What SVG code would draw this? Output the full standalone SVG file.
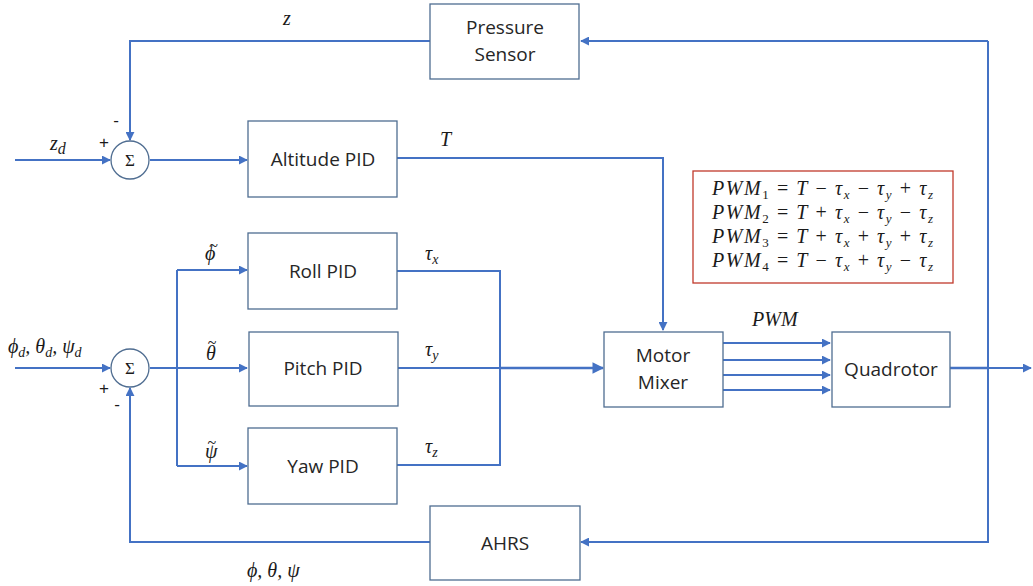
<svg xmlns="http://www.w3.org/2000/svg" width="1033" height="586" viewBox="0 0 1033 586">
  <style>
    .box { fill: #ffffff; stroke: #4f6d91; stroke-width: 1.3; }
    .wire { fill: none; stroke: #4472c4; stroke-width: 2; }
    .lbl { font-family: "Open Sans", "Liberation Sans", sans-serif; font-size: 19px; fill: #262626; text-anchor: middle; }
    .math { font-family: "Liberation Serif", "DejaVu Serif", serif; font-style: italic; font-size: 20px; fill: #1a1a1a; }
    .tl { font-style: normal; font-size: 16px; }
    .sign { font-family: "Liberation Sans", sans-serif; font-size: 17px; fill: #1a1a1a; text-anchor: middle; }
    .sum { font-family: "Liberation Serif", serif; font-size: 17px; fill: #1a1a1a; text-anchor: middle; }
    .eq { font-family: "Liberation Serif", "DejaVu Serif", serif; font-style: italic; font-size: 20px; fill: #1a1a1a; }
    .up { font-style: normal; }
  </style>
  <defs>
    <marker id="arr" viewBox="0 0 10 10" refX="9" refY="5" markerWidth="4.5" markerHeight="4.5" orient="auto" markerUnits="strokeWidth">
      <path d="M0,0 L10,5 L0,10 Z" fill="#4472c4"/>
    </marker>
  </defs>

  <!-- connectors -->
  <g id="connectors">
    <path class="wire" d="M988,41 H581" marker-end="url(#arr)"/>
    <path class="wire" d="M430,41 H130 V140" marker-end="url(#arr)"/>
    <path class="wire" d="M15,160 H110" marker-end="url(#arr)"/>
    <path class="wire" d="M150,160 H247" marker-end="url(#arr)"/>
    <path class="wire" d="M397,158 H663 V330" marker-end="url(#arr)"/>
    <path class="wire" d="M15,368 H110" marker-end="url(#arr)"/>
    <path class="wire" d="M150,368 H177"/>
    <path class="wire" d="M177,270 V466"/>
    <path class="wire" d="M177,270 H247" marker-end="url(#arr)"/>
    <path class="wire" d="M177,368 H247" marker-end="url(#arr)"/>
    <path class="wire" d="M177,466 H247" marker-end="url(#arr)"/>
    <path class="wire" d="M397,271 H500 V465 H397"/>
    <path class="wire" d="M398,368 H500"/>
    <path class="wire" d="M500,368 H603" style="stroke-width:2.6" marker-end="url(#arr)"/>
    <path class="wire" d="M723,343 H830" marker-end="url(#arr)"/>
    <path class="wire" d="M723,360 H830" marker-end="url(#arr)"/>
    <path class="wire" d="M723,375 H830" marker-end="url(#arr)"/>
    <path class="wire" d="M723,390 H830" marker-end="url(#arr)"/>
    <path class="wire" d="M950,368 H988" style="stroke-width:2.6"/>
    <path class="wire" d="M988,368 H1031" marker-end="url(#arr)"/>
    <path class="wire" d="M988,41 V542 H581" marker-end="url(#arr)"/>
    <path class="wire" d="M430,542 H130 V388" marker-end="url(#arr)"/>
  </g>

  <!-- signal labels -->
  <g id="signals">
    <text class="math" x="283" y="25">z</text>
    <text class="math" x="50" y="150" font-size="22">z<tspan font-size="16" dy="4">d</tspan></text>
    <text class="math" x="440" y="146">T</text>
    <text class="math" x="8" y="353">ϕ<tspan font-size="14" dy="4">d</tspan><tspan dy="-4">, θ</tspan><tspan font-size="14" dy="4">d</tspan><tspan dy="-4">, ψ</tspan><tspan font-size="14" dy="4">d</tspan></text>
    <text class="math" x="205" y="260">ϕ<tspan class="tl" dx="-6" dy="-9">~</tspan></text>
    <text class="math" x="206" y="360">θ<tspan class="tl" dx="-8" dy="-12">~</tspan></text>
    <text class="math" x="205" y="458">ψ<tspan class="tl" dx="-10" dy="-10">~</tspan></text>
    <text class="math" x="425" y="260" font-size="19">τ<tspan font-size="14" dy="4">x</tspan></text>
    <text class="math" x="425" y="356" font-size="19">τ<tspan font-size="14" dy="4">y</tspan></text>
    <text class="math" x="425" y="453" font-size="19">τ<tspan font-size="14" dy="4">z</tspan></text>
    <text class="math" x="752" y="326" font-size="17">PWM</text>
    <text class="math" x="247" y="577" font-size="19">ϕ, θ, ψ</text>
    <text class="sign" x="104" y="148">+</text>
    <text class="sign" x="116" y="126">-</text>
    <text class="sign" x="104" y="394">+</text>
    <text class="sign" x="117" y="410">-</text>
  </g>

  <!-- summing junctions -->
  <g id="sum-altitude">
    <circle class="box" cx="130" cy="160" r="19"/>
    <text class="sum" x="130" y="166">Σ</text>
  </g>
  <g id="sum-attitude">
    <circle class="box" cx="130" cy="368" r="19"/>
    <text class="sum" x="130" y="374">Σ</text>
  </g>

  <!-- blocks -->
  <g id="pressure-sensor">
    <rect class="box" x="430" y="4" width="149" height="75"/>
    <text class="lbl" x="505" y="34">Pressure</text>
    <text class="lbl" x="505" y="61">Sensor</text>
  </g>
  <g id="altitude-pid">
    <rect class="box" x="248" y="121" width="149" height="76"/>
    <text class="lbl" x="323" y="166">Altitude PID</text>
  </g>
  <g id="roll-pid">
    <rect class="box" x="248" y="233" width="149" height="76"/>
    <text class="lbl" x="323" y="278">Roll PID</text>
  </g>
  <g id="pitch-pid">
    <rect class="box" x="249" y="332" width="149" height="74"/>
    <text class="lbl" x="323" y="375">Pitch PID</text>
  </g>
  <g id="yaw-pid">
    <rect class="box" x="248" y="428" width="149" height="76"/>
    <text class="lbl" x="323" y="473">Yaw PID</text>
  </g>
  <g id="motor-mixer">
    <rect class="box" x="604" y="332" width="119" height="75"/>
    <text class="lbl" x="663" y="362">Motor</text>
    <text class="lbl" x="663" y="389">Mixer</text>
  </g>
  <g id="quadrotor">
    <rect class="box" x="832" y="332" width="118" height="75"/>
    <text class="lbl" x="891" y="376">Quadrotor</text>
  </g>
  <g id="ahrs">
    <rect class="box" x="430" y="506" width="150" height="74"/>
    <text class="lbl" x="505" y="550">AHRS</text>
  </g>

  <!-- mixer equations -->
  <g id="mixer-equations">
    <rect x="693" y="171" width="260" height="112" fill="#ffffff" stroke="#c0392b" stroke-width="1.3"/>
    <text class="eq" x="712" y="195" textLength="221" lengthAdjust="spacing">PWM<tspan class="up" font-size="13" dy="4">1</tspan><tspan class="up" dy="-4"> = </tspan>T<tspan class="up"> − </tspan>τ<tspan font-size="13" dy="4">x</tspan><tspan class="up" dy="-4"> − </tspan>τ<tspan font-size="13" dy="4">y</tspan><tspan class="up" dy="-4"> + </tspan>τ<tspan font-size="13" dy="4">z</tspan></text>
    <text class="eq" x="712" y="219" textLength="221" lengthAdjust="spacing">PWM<tspan class="up" font-size="13" dy="4">2</tspan><tspan class="up" dy="-4"> = </tspan>T<tspan class="up"> + </tspan>τ<tspan font-size="13" dy="4">x</tspan><tspan class="up" dy="-4"> − </tspan>τ<tspan font-size="13" dy="4">y</tspan><tspan class="up" dy="-4"> − </tspan>τ<tspan font-size="13" dy="4">z</tspan></text>
    <text class="eq" x="712" y="243" textLength="221" lengthAdjust="spacing">PWM<tspan class="up" font-size="13" dy="4">3</tspan><tspan class="up" dy="-4"> = </tspan>T<tspan class="up"> + </tspan>τ<tspan font-size="13" dy="4">x</tspan><tspan class="up" dy="-4"> + </tspan>τ<tspan font-size="13" dy="4">y</tspan><tspan class="up" dy="-4"> + </tspan>τ<tspan font-size="13" dy="4">z</tspan></text>
    <text class="eq" x="712" y="267" textLength="221" lengthAdjust="spacing">PWM<tspan class="up" font-size="13" dy="4">4</tspan><tspan class="up" dy="-4"> = </tspan>T<tspan class="up"> − </tspan>τ<tspan font-size="13" dy="4">x</tspan><tspan class="up" dy="-4"> + </tspan>τ<tspan font-size="13" dy="4">y</tspan><tspan class="up" dy="-4"> − </tspan>τ<tspan font-size="13" dy="4">z</tspan></text>
  </g>
</svg>
